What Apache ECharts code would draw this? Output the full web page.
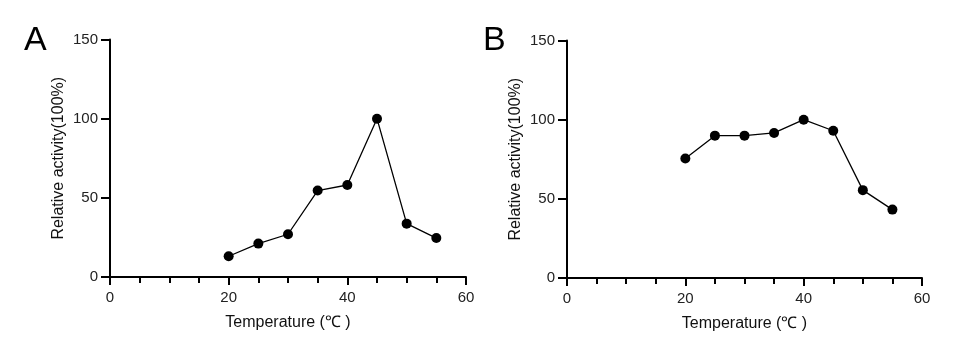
<!DOCTYPE html>
<html>
<head>
<meta charset="utf-8">
<script src="https://cdn.jsdelivr.net/npm/echarts@6/dist/echarts.min.js"></script>
<style>
html,body{margin:0;padding:0;background:#fff;}
#c{width:979px;height:350px;}
</style>
</head>
<body>
<div id="c"></div>
<script>
const temperatures = [20, 25, 30, 35, 40, 45, 50, 55];
const activityA = [13.1, 21.1, 27.0, 54.6, 58.1, 100, 33.7, 24.6];
const activityB = [75.5, 89.9, 89.9, 91.6, 100, 93.0, 55.5, 43.2];
const xTicks = [0, 20, 40, 60];
const yTicks = [0, 50, 100, 150];
const panelLabels = ['A', 'B'];
const xName = 'Temperature (℃ )';
const yName = 'Relative activity(100%)';

const font = 'Liberation Sans, Arial, sans-serif';
const chart = echarts.init(document.getElementById('c'), null, {renderer: 'canvas'});

const grids = [
  {left: 110, top: 39.5, width: 356, height: 237.5},
  {left: 567, top: 40.5, width: 355, height: 237.5}
];

function xAxis(i) {
  return {
    type: 'value', gridIndex: i, min: xTicks[0], max: xTicks[xTicks.length - 1], interval: 20,
    name: xName, nameLocation: 'middle', nameGap: 38,
    nameTextStyle: {fontFamily: font, fontSize: 16, color: '#111'},
    axisLine: {show: true, lineStyle: {color: '#000', width: 2}},
    axisTick: {show: true, length: 8, lineStyle: {color: '#000', width: 2}},
    minorTick: {show: true, splitNumber: 4, length: 6, lineStyle: {color: '#000', width: 2}},
    axisLabel: {fontFamily: font, fontSize: 15, color: '#222', margin: 13},
    splitLine: {show: false}
  };
}
function yAxis(i) {
  return {
    type: 'value', gridIndex: i, min: yTicks[0], max: yTicks[yTicks.length - 1], interval: 50,
    name: yName, nameLocation: 'middle', nameGap: 43, nameRotate: 90,
    nameTextStyle: {fontFamily: font, fontSize: 16, color: '#111'},
    axisLine: {show: true, lineStyle: {color: '#000', width: 2}},
    axisTick: {show: true, length: 9, lineStyle: {color: '#000', width: 2}},
    axisLabel: {fontFamily: font, fontSize: 15, color: '#222', margin: 12},
    splitLine: {show: false}
  };
}
function series(i, vals) {
  return {
    type: 'line', xAxisIndex: i, yAxisIndex: i,
    data: temperatures.map((t, k) => [t, vals[k]]),
    symbol: 'circle', symbolSize: 10,
    itemStyle: {color: '#000'},
    lineStyle: {color: '#000', width: 1.3},
    animation: false
  };
}

chart.setOption({
  backgroundColor: '#fff',
  animation: false,
  grid: grids,
  xAxis: [xAxis(0), xAxis(1)],
  yAxis: [yAxis(0), yAxis(1)],
  series: [series(0, activityA), series(1, activityB)],
  graphic: [
    {type: 'text', left: 24, top: 24, style: {text: panelLabels[0], font: '34px ' + font, fill: '#000'}},
    {type: 'text', left: 483, top: 24, style: {text: panelLabels[1], font: '34px ' + font, fill: '#000'}}
  ]
});
</script>
</body>
</html>
